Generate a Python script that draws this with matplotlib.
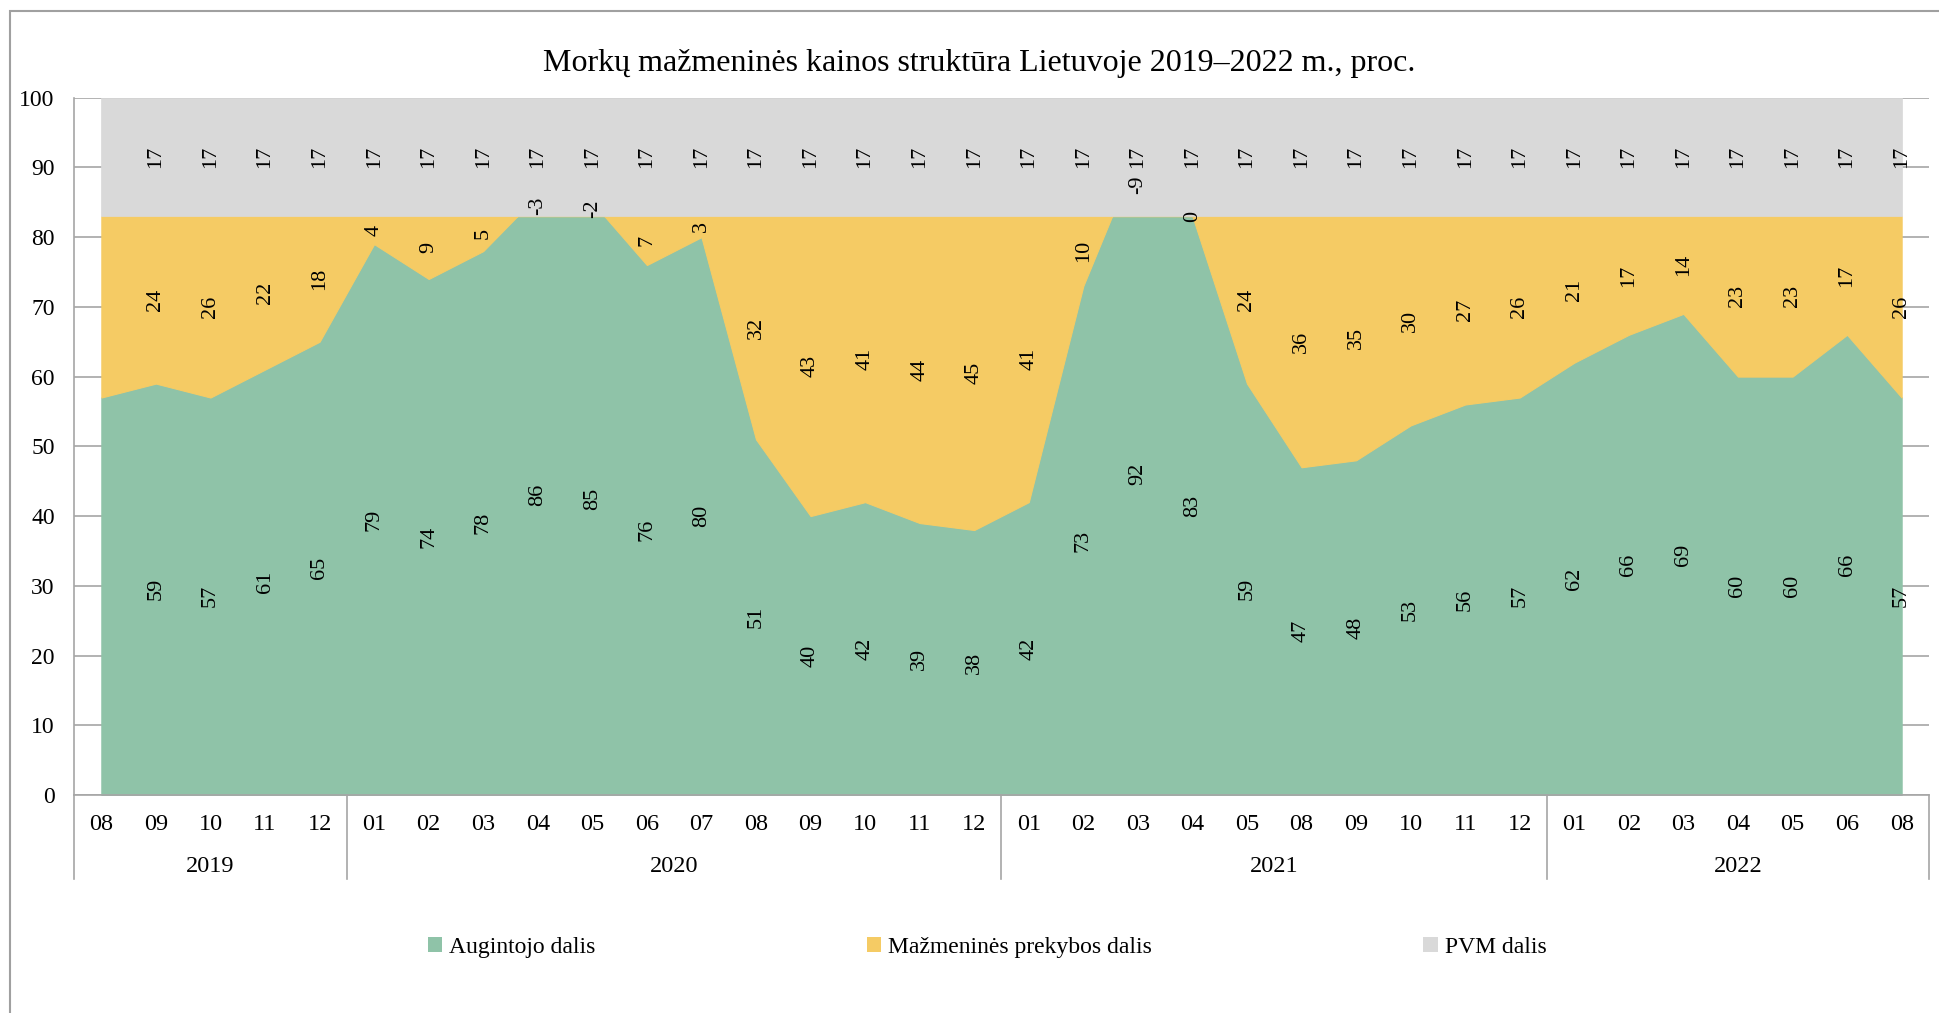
import matplotlib
matplotlib.use("Agg")
import matplotlib.pyplot as plt
from matplotlib.lines import Line2D
from matplotlib.patches import Rectangle, Patch

plt.rcParams['font.family'] = ['Liberation Serif', 'DejaVu Serif']

months = ['08', '09', '10', '11', '12',
          '01', '02', '03', '04', '05', '06', '07', '08', '09', '10', '11', '12',
          '01', '02', '03', '04', '05', '08', '09', '10', '11', '12',
          '01', '02', '03', '04', '05', '06', '08']
years = ['2019', '2020', '2021', '2022']
year_sizes = [5, 12, 10, 7]

augintojo = [57, 59, 57, 61, 65,
             79, 74, 78, 86, 85, 76, 80, 51, 40, 42, 39, 38,
             42, 73, 92, 83, 59, 47, 48, 53, 56, 57,
             62, 66, 69, 60, 60, 66, 57]
prekybos = [26, 24, 26, 22, 18,
            4, 9, 5, -3, -2, 7, 3, 32, 43, 41, 44, 45,
            41, 10, -9, 0, 24, 36, 35, 30, 27, 26,
            21, 17, 14, 23, 23, 17, 26]
pvm = [17] * 34

labels = ['Augintojo dalis', 'Mažmeninės prekybos dalis', 'PVM dalis']
colors = ['#8fc3a8', '#f5cb64', '#d9d9d9']

fig = plt.figure(figsize=(19.39, 10.13), dpi=100)
ax = fig.add_axes([0.0382, 0.2152, 0.9566, 0.6884])

x = list(range(len(months)))
top1 = [g for g in augintojo]
top2 = [g + r for g, r in zip(augintojo, prekybos)]
top3 = [t + v for t, v in zip(top2, pvm)]

# edge in the same colour hides the antialiasing seam between layers
ax.fill_between(x, 0, top1, facecolor=colors[0], edgecolor=colors[0], lw=0.8, zorder=2)
ax.fill_between(x, top1, top2, facecolor=colors[1], edgecolor=colors[1], lw=0.8, zorder=2)
ax.fill_between(x, top2, top3, facecolor=colors[2], edgecolor=colors[2], lw=0.5, zorder=2)

# data labels (first point has none in the original)
for i in x[1:]:
    g, r, v = augintojo[i], prekybos[i], pvm[i]
    for val, yc in [(g, g / 2), (r, g + r / 2), (v, g + r + v / 2)]:
        ax.text(i, yc, str(val), rotation=90, ha='center', va='center',
                fontsize=16, zorder=5)

ax.set_xlim(-0.5, len(months) - 0.5)
ax.set_ylim(0, 100)
ax.set_yticks(range(0, 101, 10))
ax.yaxis.grid(True, color='#a6a6a6', lw=1.2, zorder=0)
ax.set_axisbelow(True)
ax.tick_params(axis='y', length=0, pad=14, labelsize=17)
ax.set_xticks(x)
ax.set_xticklabels(months)
ax.tick_params(axis='x', length=0, pad=14, labelsize=17.5)

for s in ['top', 'right']:
    ax.spines[s].set_visible(False)
for s in ['left', 'bottom']:
    ax.spines[s].set_color('#a6a6a6')
    ax.spines[s].set_linewidth(1.2)
    ax.spines[s].set_zorder(3)

# year group labels and separators
tr = ax.get_xaxis_transform()
start = -0.5
bounds = [start]
for yr, n in zip(years, year_sizes):
    ax.text(start + n / 2, -0.102, yr, transform=tr, ha='center', va='center',
            fontsize=17.5)
    start += n
    bounds.append(start)
for b in bounds:
    ax.add_line(Line2D([b, b], [0, -0.121], transform=tr, color='#a6a6a6',
                       lw=1.2, clip_on=False))

fig.text(0.505, 0.937, 'Morkų mažmeninės kainos struktūra Lietuvoje 2019–2022 m., proc.',
         ha='center', va='center', fontsize=23)

handles = [Patch(facecolor=c, edgecolor='none') for c in colors]
fig.legend(handles, labels, loc='center', bbox_to_anchor=(0.509, 1 - 947 / 1013),
           ncol=3, frameon=False, fontsize=17, handlelength=0.6, handleheight=0.6,
           handletextpad=0.3, columnspacing=11.5)

fig.add_artist(Rectangle((10 / 1939, -0.2), 1.5, 1.2 - 11 / 1013,
                         transform=fig.transFigure, fill=False,
                         edgecolor='#a0a0a0', lw=1.5))

fig.savefig('out.png', dpi=100)
